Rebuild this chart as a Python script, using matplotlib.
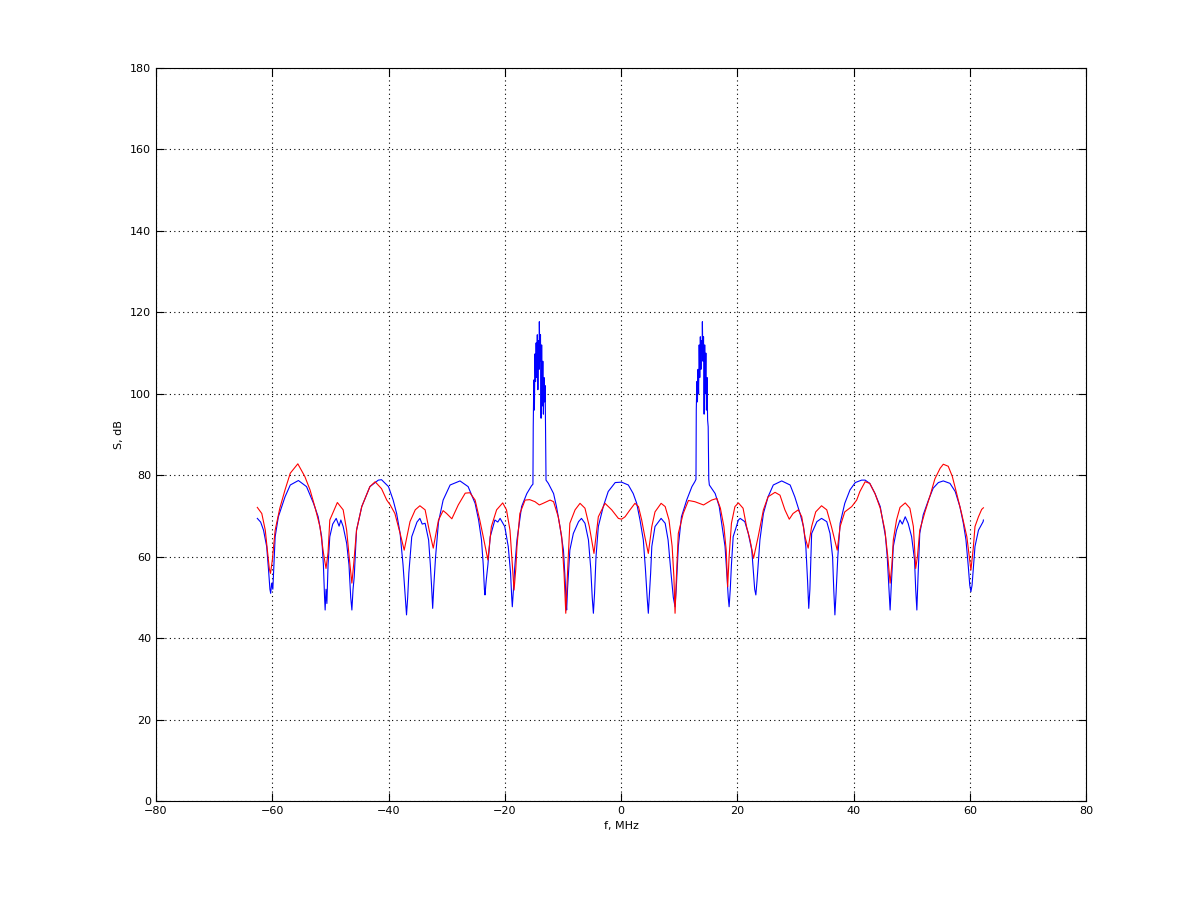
import matplotlib
matplotlib.use("Agg")
import matplotlib.pyplot as plt

# blue trace: frequency (MHz) and level (dB)
blue_f = [
    -62.57, -62.0, -61.5, -60.96, -60.6, -60.4, -60.27, -60.1, -59.9, -59.5,
    -58.95, -57.8, -56.9, -55.5, -54.1, -52.9, -52.1, -51.5, -51.2, -51.0,
    -50.9, -50.75, -50.6, -50.4, -50.1, -49.6, -49.0, -48.5, -48.2, -47.8,
    -47.2, -46.8, -46.5, -46.3, -46.1, -45.9, -45.5, -44.6, -43.2, -41.75,
    -41.2, -40.0, -39.2, -38.6, -38.0, -37.5, -37.2, -37.0, -36.9, -36.7,
    -36.5, -36.0, -35.1, -34.6, -34.2, -33.7, -33.1, -32.8, -32.6, -32.4,
    -32.2, -31.9, -31.4, -30.6, -29.4, -27.7, -26.3, -25.1, -24.5, -24.0,
    -23.7, -23.5, -23.4, -23.2, -22.9, -22.5, -21.7, -21.2, -20.8, -20.0,
    -19.4, -19.0, -18.8, -18.7, -18.5, -18.3, -17.9, -17.1, -16.2, -15.4,
    -15.15, -15.1, -15.0, -14.9, -14.8, -14.7, -14.6, -14.5, -14.4, -14.3,
    -14.2, -14.1, -14.05, -13.95, -13.85, -13.75, -13.65, -13.55, -13.45, -13.35,
    -13.25, -13.15, -13.05, -12.95, -12.9, -12.5, -11.6, -11.1, -10.5, -9.9,
    -9.6, -9.45, -9.35, -9.2, -9.0, -8.8, -8.2, -7.3, -6.8, -6.2,
    -5.6, -5.2, -4.95, -4.75, -4.55, -4.3, -3.9, -3.05, -2.2, -1.0,
    0.1, 1.26, 2.1, 2.7, 3.27, 3.84, 4.2, 4.5, 4.7, 4.9,
    5.1, 5.3, 5.85, 6.9, 7.6, 8.1, 8.6, 9.0, 9.3, 9.5,
    9.86, 10.4, 11.3, 12.2, 12.7, 12.9, 12.95, 13.05, 13.15, 13.25,
    13.35, 13.45, 13.55, 13.65, 13.75, 13.85, 13.95, 14.0, 14.1, 14.2,
    14.3, 14.4, 14.5, 14.6, 14.7, 14.8, 14.9, 15.0, 15.1, 15.2,
    16.2, 16.9, 17.4, 17.9, 18.2, 18.45, 18.6, 18.8, 19.0, 19.3,
    20.2, 20.5, 21.3, 21.9, 22.5, 22.8, 23.0, 23.2, 23.4, 23.6,
    23.9, 24.5, 25.3, 26.2, 27.65, 29.1, 29.9, 30.8, 31.4, 31.8,
    32.1, 32.3, 32.5, 32.8, 33.7, 34.5, 35.4, 35.96, 36.4, 36.6,
    36.8, 37.0, 37.3, 37.7, 38.5, 39.4, 40.3, 41.4, 42.0, 42.8,
    43.7, 44.6, 45.1, 45.5, 45.8, 46.1, 46.3, 46.5, 46.85, 47.4,
    48.0, 48.4, 48.9, 49.4, 50.0, 50.5, 50.7, 50.9, 51.1, 51.4,
    52.0, 52.9, 53.7, 54.6, 55.45, 56.6, 57.5, 58.3, 58.9, 59.35,
    59.75, 60.0, 60.2, 60.4, 60.9, 61.5, 62.3, 62.35,
]
blue_db = [
    69.4, 68.5, 66.5, 62.5, 56.0, 52.0, 51.0, 53.5, 52.0, 64.9,
    69.8, 74.7, 77.6, 78.7, 77.2, 73.1, 69.8, 64.9, 58.0, 50.0,
    46.9, 52.0, 48.5, 58.0, 64.9, 68.0, 69.4, 67.5, 69.0, 67.4,
    63.3, 58.0, 50.0, 46.9, 52.0, 55.0, 66.5, 72.3, 77.2, 78.8,
    78.9, 77.2, 73.9, 70.6, 65.7, 58.0, 52.0, 48.0, 45.7, 50.0,
    56.0, 64.9, 68.5, 69.4, 68.0, 68.2, 64.1, 58.0, 53.0, 47.3,
    53.0, 60.0, 68.5, 73.9, 77.6, 78.6, 77.2, 73.1, 69.0, 64.1,
    58.0, 52.0, 50.6, 54.0, 58.0, 64.9, 69.0, 68.5, 69.4, 67.4,
    62.5, 56.0, 50.0, 47.7, 52.0, 57.0, 64.1, 72.3, 75.5, 77.4,
    77.8, 91.9, 103.4, 96.0, 109.8, 103.0, 112.5, 104.0, 114.5, 101.0,
    113.0, 106.0, 117.7, 108.0, 114.5, 94.0, 112.0, 97.0, 108.0, 95.0,
    104.0, 98.0, 102.0, 87.8, 78.8, 78.0, 75.5, 72.3, 67.4, 61.6,
    54.0, 49.0, 46.9, 52.0, 57.0, 61.6, 65.7, 68.6, 69.4, 68.2,
    64.1, 57.0, 50.0, 46.1, 51.0, 60.0, 67.4, 72.3, 76.0, 78.2,
    78.3, 77.6, 75.5, 73.1, 69.0, 64.1, 57.0, 50.0, 46.1, 51.0,
    56.0, 62.5, 67.4, 69.4, 68.2, 64.1, 56.0, 50.0, 47.7, 52.0,
    62.5, 69.8, 73.9, 77.2, 78.4, 79.0, 96.0, 103.0, 98.0, 106.0,
    100.0, 112.0, 104.0, 114.0, 106.0, 113.0, 110.0, 117.7, 108.0, 114.0,
    95.0, 112.0, 100.0, 110.0, 96.0, 104.0, 93.6, 91.9, 79.0, 77.6,
    75.5, 72.3, 67.4, 62.5, 56.0, 50.0, 47.7, 52.0, 58.0, 64.9,
    69.0, 69.4, 68.6, 65.7, 61.6, 56.0, 52.0, 50.6, 54.0, 58.0,
    64.1, 70.6, 74.7, 77.6, 78.6, 77.6, 74.7, 70.6, 67.4, 62.5,
    54.0, 47.3, 52.0, 65.7, 68.6, 69.4, 68.6, 65.7, 60.0, 52.0,
    45.7, 51.0, 60.0, 68.2, 73.1, 76.4, 78.2, 78.8, 78.8, 78.0,
    75.5, 72.3, 68.2, 65.0, 60.0, 52.0, 46.9, 53.0, 62.5, 66.5,
    69.0, 68.0, 69.8, 68.2, 64.9, 59.2, 52.0, 46.9, 55.0, 65.7,
    70.3, 73.9, 76.8, 78.2, 78.6, 78.0, 76.0, 72.3, 68.2, 64.1,
    57.6, 53.0, 51.4, 53.0, 62.5, 66.5, 68.6, 69.0,
]

# red trace
red_f = [
    -62.57, -61.8, -61.2, -60.8, -60.5, -60.3, -60.0, -59.5, -58.7, -57.8,
    -56.9, -55.6, -54.4, -53.5, -52.6, -51.8, -51.2, -50.75, -50.4, -50.1,
    -48.8, -47.8, -47.2, -46.7, -46.3, -46.0, -45.5, -44.6, -43.2, -42.3,
    -41.2, -40.3, -39.7, -38.9, -38.0, -37.3, -36.3, -35.4, -34.6, -33.7,
    -33.0, -32.3, -31.4, -30.6, -30.0, -29.1, -28.0, -26.8, -26.0, -25.1,
    -24.3, -23.7, -22.9, -22.3, -21.4, -20.35, -19.7, -19.1, -18.7, -18.4,
    -18.1, -17.9, -17.4, -16.5, -15.7, -14.8, -14.05, -13.4, -12.2, -11.6,
    -10.8, -10.2, -9.8, -9.5, -9.2, -8.8, -7.9, -7.05, -6.2, -5.45,
    -4.65, -3.9, -2.75, -1.6, -0.45, 0.1, 0.7, 1.55, 2.4, 3.0,
    3.56, 4.1, 4.7, 5.3, 5.85, 6.9, 7.6, 8.26, 8.8, 9.1,
    9.3, 9.5, 9.86, 10.7, 11.6, 12.7, 14.2, 15.6, 16.5, 17.1,
    17.7, 18.1, 18.35, 18.6, 19.0, 19.6, 20.2, 21.0, 21.6, 22.2,
    22.8, 23.6, 24.5, 25.3, 26.5, 27.35, 28.2, 28.95, 29.6, 30.5,
    31.1, 31.65, 32.2, 32.8, 33.5, 34.5, 35.4, 36.2, 37.2, 37.7,
    38.5, 39.7, 40.55, 41.1, 42.0, 42.8, 43.7, 44.6, 45.4, 45.9,
    46.3, 46.6, 46.85, 47.4, 48.0, 48.9, 49.7, 50.3, 50.7, 51.0,
    51.4, 52.3, 53.2, 54.0, 54.9, 55.45, 56.3, 57.0, 57.75, 58.6,
    59.5, 60.2, 60.6, 60.9, 61.5, 62.05, 62.35,
]
red_db = [
    72.1, 70.6, 66.5, 61.0, 57.0, 55.9, 59.0, 66.5, 71.9, 76.4,
    80.5, 82.8, 79.7, 76.4, 71.9, 67.4, 61.0, 57.1, 61.0, 69.0,
    73.3, 71.5, 66.5, 59.0, 53.5, 58.0, 66.5, 72.3, 77.2, 78.4,
    76.7, 73.9, 72.7, 70.6, 65.7, 61.6, 68.6, 71.5, 72.5, 71.5,
    66.5, 62.1, 69.0, 71.3, 70.6, 69.3, 72.7, 75.6, 75.7, 73.9,
    69.0, 64.9, 59.2, 67.4, 71.5, 73.2, 71.5, 66.5, 58.0, 51.8,
    57.0, 62.5, 70.6, 73.9, 74.0, 73.5, 72.7, 73.1, 73.9, 73.5,
    69.8, 64.9, 56.0, 46.1, 56.0, 68.2, 71.5, 73.1, 71.9, 67.4,
    60.8, 69.8, 73.1, 71.5, 69.4, 69.2, 69.8, 71.5, 73.1, 72.3,
    69.0, 64.9, 60.8, 67.4, 71.0, 73.1, 72.3, 69.0, 62.5, 55.0,
    46.1, 54.0, 65.7, 70.6, 73.8, 73.5, 72.7, 73.9, 74.3, 71.9,
    67.4, 61.6, 52.6, 60.0, 68.2, 72.3, 73.2, 71.9, 67.4, 64.1,
    59.6, 64.9, 71.5, 74.7, 75.8, 75.1, 71.5, 69.2, 70.6, 71.5,
    69.8, 64.9, 62.1, 67.4, 71.0, 72.5, 71.5, 67.4, 61.6, 67.4,
    71.0, 72.3, 73.9, 76.0, 78.4, 78.0, 75.5, 71.9, 66.5, 60.0,
    53.5, 58.0, 64.1, 69.0, 72.1, 73.2, 71.9, 67.4, 57.1, 60.0,
    66.5, 71.0, 75.1, 79.1, 81.7, 82.7, 82.2, 79.7, 75.5, 70.6,
    64.9, 56.7, 62.0, 67.4, 69.8, 71.6, 72.0,
]

x_ticks = list(range(-80, 81, 20))
y_ticks = list(range(0, 181, 20))

fig = plt.figure(figsize=(12, 9.01), dpi=100)
ax = fig.add_axes([0.13, 0.111, 0.775, 0.8135])

ax.plot(blue_f, blue_db, color="#0000ff", linewidth=0.8)
ax.plot(red_f, red_db, color="#ff0000", linewidth=0.8)

ax.set_xlim(-80, 80)
ax.set_ylim(0, 180)
ax.set_xticks(x_ticks)
ax.set_yticks(y_ticks)
ax.tick_params(direction="in", length=6, width=0.8, labelsize=8,
               top=True, right=True, colors="black")
ax.grid(True, color="black", linestyle=(0, (1, 3)), linewidth=0.8)
for s in ax.spines.values():
    s.set_linewidth(0.8)

ax.set_xlabel("f, MHz", fontsize=8)
ax.set_ylabel("S, dB", fontsize=8)

fig.savefig("out.png", dpi=100)
plt.close(fig)
